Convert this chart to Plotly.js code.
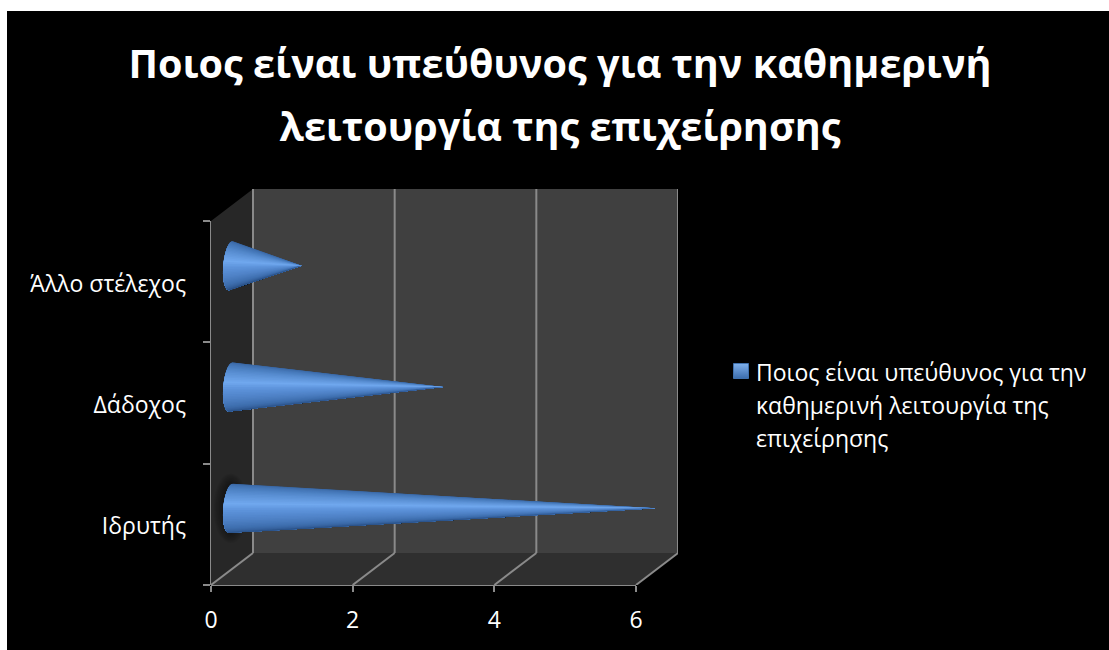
<!DOCTYPE html>
<html lang="el">
<head>
<meta charset="utf-8">
<title>Ποιος είναι υπεύθυνος</title>
<script src="https://cdn.plot.ly/plotly-3.0.1.min.js"></script>
<style>html,body{margin:0;padding:0;background:#fff}#chart{width:1109px;height:650px}</style>
</head>
<body>
<div id="chart"></div>
<script>
// Series values
const categories = ['Ιδρυτής', 'Δάδοχος', 'Άλλο στέλεχος'];
const values = [6, 3, 1];
const xTicks = [0, 2, 4, 6];
const titleLines = ['Ποιος είναι υπεύθυνος για την καθημερινή', 'λειτουργία της επιχείρησης'];
const seriesLines = ['Ποιος είναι υπεύθυνος για την', 'καθημερινή λειτουργία της', 'επιχείρησης'];

// Plot frame in pixels: front plane of the 3-D box plus its depth offset
const W = 1109, H = 650;
const FONT = '"Open Sans", "Noto Sans", sans-serif';
const left = 211, front = 636, bottom = 585, top3d = 221;
const depthPx = 42, risePx = 32;
const pxX = (front - left) / 6;
const pxY = (bottom - top3d) / categories.length;
const dx = depthPx / pxX, dy = risePx / pxY;
const yMin = -0.5, yMax = categories.length - 0.5;

// Cone geometry, in data units
const coneRadius = 24.5 / pxY, coneEllipse = 7.5 / pxX, coneTilt = 2 / pxX;
const coneDepthX = 0.47 * dx, coneDepthY = 0.5 * dy;
const shadeStops = [
  [0, [54, 98, 158]], [0.2, [74, 126, 192]], [0.44, [112, 168, 238]],
  [0.52, [94, 148, 220]], [0.8, [62, 110, 174]], [1, [38, 76, 128]]
];
function shade(f) {
  for (let i = 1; i < shadeStops.length; i++) {
    const [a, ca] = shadeStops[i - 1], [b, cb] = shadeStops[i];
    if (f <= b) {
      const u = (f - a) / (b - a);
      return 'rgb(' + ca.map((c, k) => Math.round(c + (cb[k] - c) * u)).join(',') + ')';
    }
  }
  return 'rgb(38,76,128)';
}

// Each shade step repaints the remainder of the cone, so no seams show between steps
function coneTraces(value, index) {
  const xb = coneDepthX, yc = index + coneDepthY, tipX = value + coneDepthX;
  const n = 40, out = [];
  const arc = a => [xb - coneEllipse * Math.cos(a) + coneTilt * Math.sin(a), yc + coneRadius * Math.sin(a)];
  for (let i = 0; i < n; i++) {
    const xs = [], ys = [];
    for (let j = i; j <= n; j++) {
      const p = arc(Math.PI / 2 - Math.PI * j / n);
      xs.push(p[0]); ys.push(p[1]);
    }
    xs.push(tipX); ys.push(yc);
    xs.push(xs[0]); ys.push(ys[0]);
    out.push({
      type: 'scatter', mode: 'lines', x: xs, y: ys,
      fill: 'toself', fillcolor: shade((i + 0.5) / n), line: {width: 0},
      showlegend: false, hoverinfo: 'skip', cliponaxis: false
    });
  }
  return out;
}

// Soft dark halo on the side wall behind the base of the longest cone
function haloTraces(index) {
  const yc = index + coneDepthY, out = [];
  for (let r = 7; r >= 1; r--) {
    const xs = [], ys = [];
    for (let i = 0; i <= 36; i++) {
      const a = i / 36 * 2 * Math.PI;
      xs.push(Math.min(dx, coneDepthX + (coneEllipse + r * 0.02) * Math.cos(a)));
      ys.push(yc + (coneRadius + r * 0.012) * Math.sin(a));
    }
    out.push({type: 'scatter', mode: 'lines', x: xs, y: ys, fill: 'toself',
      fillcolor: 'rgba(0,0,0,0.06)', line: {width: 0}, showlegend: false, hoverinfo: 'skip'});
  }
  return out;
}

const traces = [];
values.forEach((v, i) => { if (v === Math.max(...values)) traces.push(...haloTraces(i)); });
values.forEach((v, i) => traces.push(...coneTraces(v, i)));

// Legend entry for the series
traces.push({
  type: 'scatter', mode: 'markers', x: [null], y: [null], showlegend: true, hoverinfo: 'skip',
  name: '<span style="font-size:23px">' + seriesLines.join('<br>') + '</span>',
  marker: {symbol: 'square', size: 15, color: '#7fb0ec',
    gradient: {type: 'vertical', color: '#3b6dad'}, line: {color: '#3f70ad', width: 1}}
});

// Box walls, floor and gridlines
const GRID = '#8a8a8a';
const poly = pts => 'M' + pts.map(p => p.join(',')).join('L') + 'Z';
const dataShape = (path, fill) => ({type: 'path', xref: 'x', yref: 'y', layer: 'below', path,
  fillcolor: fill, line: {width: 0}});
const gridLine = (x0, y0, x1, y1) => ({type: 'line', xref: 'x', yref: 'y', layer: 'below', x0, y0, x1, y1,
  line: {color: GRID, width: 2}});
const shapes = [
  {type: 'rect', xref: 'paper', yref: 'paper', layer: 'below', x0: 7 / W, x1: 1, y0: 0, y1: 1 - 11 / H,
    fillcolor: '#000', line: {width: 0}},
  dataShape(poly([[dx, yMin + dy], [6 + dx, yMin + dy], [6 + dx, yMax + dy], [dx, yMax + dy]]), '#404040'),
  dataShape(poly([[0, yMin], [dx, yMin + dy], [dx, yMax + dy], [0, yMax]]), '#272727'),
  dataShape(poly([[0, yMin], [6, yMin], [6 + dx, yMin + dy], [dx, yMin + dy]]), '#2f2f2f')
];
xTicks.forEach(t => {
  shapes.push(gridLine(t + dx, yMin + dy, t + dx, yMax + dy));
  shapes.push(gridLine(t, yMin, t + dx, yMin + dy));
});
// Axis lines sit on the edge of the plot area, so they are placed in paper space
const paperLine = (x0, y0, x1, y1) => ({type: 'line', xref: 'paper', yref: 'paper', layer: 'below',
  x0: x0 / W, x1: x1 / W, y0: 1 - y0 / H, y1: 1 - y1 / H, line: {color: GRID, width: 2}});
shapes.push(paperLine(left, bottom, front, bottom), paperLine(left, bottom, left, top3d));

const layout = {
  width: W, height: H, margin: {l: 0, r: 0, t: 0, b: 0},
  paper_bgcolor: '#fff', plot_bgcolor: 'rgba(0,0,0,0)',
  font: {family: FONT, color: '#fff'},
  title: {
    text: '<b><span style="font-size:39.6px">' + titleLines.join('<br>') + '</span></b>',
    font: {family: FONT, size: 48.6, color: '#fff'},
    x: 560 / W, xanchor: 'center', y: 1 - 78 / H, yanchor: 'top', pad: {t: 0}
  },
  xaxis: {
    domain: [left / W, (front + depthPx) / W], range: [0, 6 + dx],
    tickmode: 'array', tickvals: xTicks, ticktext: xTicks.map(String),
    ticks: 'outside', ticklen: 6, tickwidth: 2, tickcolor: GRID, ticklabelstandoff: 8,
    tickfont: {family: FONT, size: 23, color: '#fff'},
    showgrid: false, zeroline: false, showline: false, fixedrange: true
  },
  yaxis: {
    domain: [1 - bottom / H, 1 - (top3d - risePx) / H], range: [yMin, yMax + dy],
    tickmode: 'array', tickvals: categories.map((c, i) => i), ticktext: categories,
    ticks: '', ticklabelstandoff: 24, ticklabelshift: 2,
    tickfont: {family: FONT, size: 23, color: '#fff'},
    minor: {tickmode: 'array', tickvals: [-0.5, 0.5, 1.5, 2.5], ticks: 'outside', ticklen: 7, tickwidth: 2,
      tickcolor: GRID, showgrid: false},
    showgrid: false, zeroline: false, showline: false, fixedrange: true
  },
  shapes,
  showlegend: true,
  legend: {
    x: 716 / W, xanchor: 'left', y: 1 - 348 / H, yanchor: 'top', bgcolor: 'rgba(0,0,0,0)', borderwidth: 0,
    valign: 'top', font: {family: FONT, size: 25.4, color: '#fff'}, itemwidth: 30
  }
};

Plotly.newPlot('chart', traces, layout, {displayModeBar: false, staticPlot: true}).then(() => {
  // Tighten the gap between the legend key and its text
  document.querySelectorAll('#chart .legend .legendsymbols').forEach(g => g.setAttribute('transform', 'translate(5,0)'));
});
</script>
</body>
</html>
